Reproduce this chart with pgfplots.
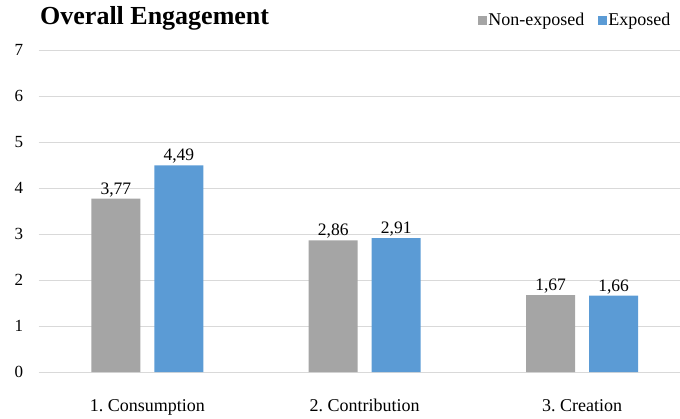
\documentclass[border=0pt]{standalone}
\usepackage{fontspec}
\setmainfont{Liberation Serif}
\usepackage{pgfplots}
\pgfplotsset{compat=1.18}
\frenchspacing

\definecolor{nonexp}{HTML}{A5A5A5}
\definecolor{expblue}{HTML}{5B9BD5}
\definecolor{gridgray}{HTML}{D9D9D9}

\begin{document}
\begin{tikzpicture}
\begin{axis}[
  at={(0,0)}, anchor=south west,
  scale only axis, width=641.4pt, height=322pt,
  ymin=0, ymax=7, ytick={0,...,7},
  xmin=-0.5, xmax=2.45,
  xtick=data,
  xticklabels={1. Consumption, 2. Contribution, 3. Creation},
  ybar=14pt, bar width=49pt,
  axis line style={draw=none},
  tick style={draw=none},
  major tick length=0pt,
  ymajorgrids,
  grid style={gridgray, line width=1pt},
  /pgf/number format/assume math mode=true,
  yticklabel style={font=\fontsize{17}{17}\selectfont, xshift=-12pt},
  xticklabel style={font=\fontsize{18}{18}\selectfont, anchor=base, yshift=-39pt},
  nodes near coords,
  nodes near coords style={font=\fontsize{17.5}{17.5}\selectfont, text=black,
    anchor=base, yshift=4.5pt,
    /pgf/number format/.cd, use comma, fixed, fixed zerofill, precision=2,
    assume math mode=true},
  legend columns=2,
  legend style={draw=none, fill=none, at={(0.9875,1.093)}, anchor=east,
    font=\fontsize{18}{18}\selectfont, inner sep=0pt,
    nodes={inner xsep=1.5pt, inner ysep=1pt},
    /tikz/every even column/.append style={column sep=12pt}},
]
\addplot[fill=nonexp, draw=none,
  legend image code/.code={\fill[nonexp] (0pt,-4.5pt) rectangle (9pt,4.5pt);}]
  coordinates {(0,3.77) (1,2.86) (2,1.67)};
\addlegendentry{Non-exposed}
\addplot[fill=expblue, draw=none,
  legend image code/.code={\fill[expblue] (0pt,-4.5pt) rectangle (9pt,4.5pt);}]
  coordinates {(0,4.49) (1,2.91) (2,1.66)};
\addlegendentry{Exposed}
\end{axis}
\node[anchor=base west, font=\bfseries\fontsize{26}{26}\selectfont, inner sep=0pt]
  at (1.4pt,347pt) {Overall Engagement};
\pgfresetboundingbox
\path (-38.6pt,-46pt) rectangle (641.4pt,372pt);
\end{tikzpicture}
\end{document}
